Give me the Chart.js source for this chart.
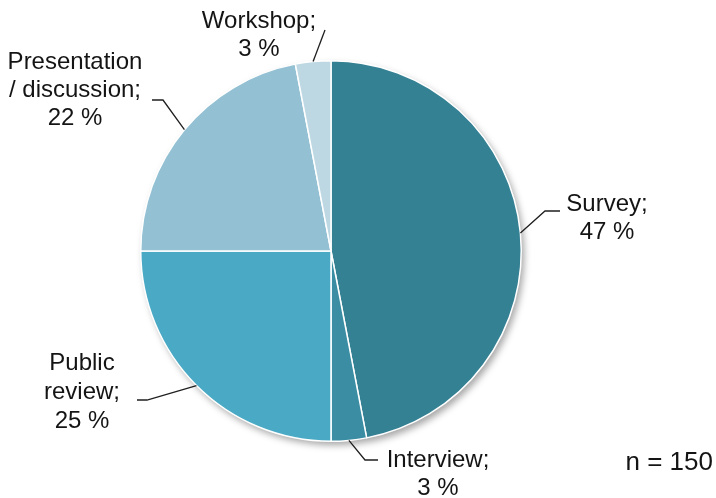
<!DOCTYPE html>
<html>
<head>
<meta charset="utf-8">
<script src="https://cdn.jsdelivr.net/npm/chart.js@4/dist/chart.umd.min.js"></script>
<style>
    body { margin: 0; background: #fff; }
    #wrap { width: 716px; height: 498px; }
</style>
</head>
<body>
<div id="wrap"><canvas id="pieChart"></canvas></div>
<script>
// Datos del gráfico
const categories = ['Survey', 'Interview', 'Public review', 'Presentation / discussion', 'Workshop'];
const shares = [47, 3, 25, 22, 3];
const labelLines = [['Survey;'], ['Interview;'], ['Public', 'review;'], ['Presentation', '/ discussion;'], ['Workshop;']];
const sampleSize = 150;

const sliceColors = ['#358194', '#3a8da3', '#4aa9c5', '#93c0d3', '#bdd8e3'];

// Posición de etiquetas: centro del texto, primera línea, codo y fin de la línea guía
const labelLayout = [
    { x: 607, y: 204, step: 28, elbow: [545, 211], end: [560, 211] },
    { x: 438, y: 460, step: 28, elbow: [365, 460], end: [378, 460] },
    { x: 82, y: 363, step: 29, elbow: [147, 400], end: [137, 400] },
    { x: 75, y: 62, step: 28, elbow: [163, 100], end: [152, 100] },
    { x: 259, y: 21, step: 28, elbow: [325, 30], end: [325, 30] }
];

const FONT = '24px "Liberation Sans", Arial, sans-serif';

// Sombra suave bajo el pastel
const shadowPlugin = {
    id: 'pieShadow',
    beforeDatasetsDraw(chart) {
        const arc = chart.getDatasetMeta(0).data[0];
        if (!arc) return;
        const ctx = chart.ctx;
        ctx.save();
        ctx.shadowColor = 'rgba(0,0,0,0.35)';
        ctx.shadowBlur = 7;
        ctx.shadowOffsetX = 3;
        ctx.shadowOffsetY = 4;
        ctx.fillStyle = '#ffffff';
        ctx.beginPath();
        ctx.arc(arc.x, arc.y, arc.outerRadius, 0, Math.PI * 2);
        ctx.fill();
        ctx.restore();
    }
};

// Etiquetas con líneas guía
const labelPlugin = {
    id: 'leaderLabels',
    afterDatasetsDraw(chart) {
        const ctx = chart.ctx;
        const arcs = chart.getDatasetMeta(0).data;
        ctx.save();
        arcs.forEach((arc, i) => {
            const lay = labelLayout[i];
            const mid = (arc.startAngle + arc.endAngle) / 2;
            const px = arc.x + Math.cos(mid) * arc.outerRadius;
            const py = arc.y + Math.sin(mid) * arc.outerRadius;

            ctx.strokeStyle = '#1f1f1f';
            ctx.lineWidth = 1.3;
            ctx.beginPath();
            ctx.moveTo(px, py);
            ctx.lineTo(lay.elbow[0], lay.elbow[1]);
            ctx.lineTo(lay.end[0], lay.end[1]);
            ctx.stroke();

            const lines = labelLines[i].concat([shares[i] + ' %']);
            ctx.fillStyle = '#141414';
            ctx.font = FONT;
            ctx.textAlign = 'center';
            ctx.textBaseline = 'middle';
            lines.forEach((txt, j) => {
                ctx.fillText(txt, lay.x, lay.y + j * lay.step);
            });
        });

        ctx.font = '26px "Liberation Sans", Arial, sans-serif';
        ctx.textAlign = 'right';
        ctx.textBaseline = 'middle';
        ctx.fillStyle = '#141414';
        ctx.fillText('n = ' + sampleSize, 713, 463);
        ctx.restore();
    }
};

function drawChart() {
    const ctx = document.getElementById('pieChart').getContext('2d');
    new Chart(ctx, {
        type: 'pie',
        data: {
            labels: categories,
            datasets: [{
                data: shares,
                backgroundColor: sliceColors,
                borderColor: '#ffffff',
                borderWidth: 1.5
            }]
        },
        options: {
            responsive: true,
            maintainAspectRatio: false,
            animation: false,
            layout: { padding: { left: 140, right: 194, top: 60, bottom: 56 } },
            plugins: {
                legend: { display: false },
                tooltip: { enabled: false }
            }
        },
        plugins: [shadowPlugin, labelPlugin]
    });
}

document.addEventListener('DOMContentLoaded', drawChart);
</script>
</body>
</html>
